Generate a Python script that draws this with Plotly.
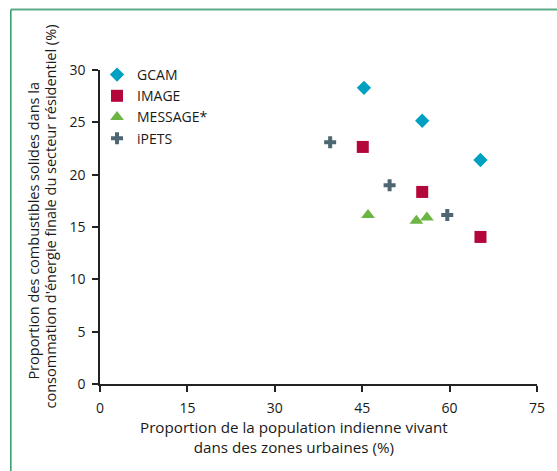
import plotly.graph_objects as go

# Data
series_names = ["GCAM", "IMAGE", "MESSAGE*", "iPETS"]
gcam_x = [45.3, 55.3, 65.3]
gcam_y = [28.3, 25.15, 21.4]
image_x = [45.1, 55.3, 65.3]
image_y = [22.65, 18.35, 14.05]
message_x = [46.0, 54.3, 56.1]
message_y = [16.15, 15.6, 15.9]
ipets_x = [39.5, 49.7, 59.6]
ipets_y = [23.1, 19.0, 16.15]

x_ticks = [0, 15, 30, 45, 60, 75]
y_ticks = [0, 5, 10, 15, 20, 25, 30]

FONT = "Open Sans"
W, H = 557, 471
L, R, T, B = 100, 16, 70, 87
PW, PH = W - L - R, H - T - B

def px_x(p):
    return (p - L) / PW

def px_y(p):
    return (H - B - p) / PH

fig = go.Figure()
fig.add_trace(go.Scatter(x=gcam_x, y=gcam_y, mode="markers", name=series_names[0],
                         marker=dict(symbol="diamond", size=11, color="#00a0c3")))
fig.add_trace(go.Scatter(x=image_x, y=image_y, mode="markers", name=series_names[1],
                         marker=dict(symbol="square", size=12, color="#b3063a")))
fig.add_trace(go.Scatter(x=message_x, y=message_y, mode="markers", name=series_names[2],
                         marker=dict(symbol="triangle-up", size=12, color="#6cb543")))
fig.add_trace(go.Scatter(x=ipets_x, y=ipets_y, mode="markers", name=series_names[3],
                         marker=dict(symbol="cross", size=10, color="#4d6672")))

axis_common = dict(showline=True, linecolor="#222222", linewidth=1.5, ticks="outside",
                   ticklen=6, tickwidth=1.5, tickcolor="#222222", showgrid=False,
                   zeroline=False, tickfont=dict(family=FONT, size=14, color="#1a1a1a"))

fig.update_xaxes(range=[0, 75], tickvals=x_ticks, ticktext=[str(v) for v in x_ticks],
                 ticklabelstandoff=4, **axis_common)
fig.update_yaxes(range=[0, 30], tickvals=y_ticks, ticktext=[str(v) for v in y_ticks],
                 ticklabelstandoff=4, **axis_common)

annotations = [
    dict(text="Proportion de la population indienne vivant<br>dans des zones urbaines (%)",
         xref="paper", yref="paper", x=px_x(296), y=px_y(437.5), xanchor="center", yanchor="middle",
         showarrow=False, font=dict(family=FONT, size=15.2, color="#1a1a1a")),
    dict(text="Proportion des combustibles solides dans la",
         xref="paper", yref="paper", x=px_x(32), y=px_y(231), xanchor="center", yanchor="middle",
         textangle=-90, showarrow=False, font=dict(family=FONT, size=14.5, color="#1a1a1a")),
    dict(text="consommation d'énergie finale du secteur résidentiel (%)",
         xref="paper", yref="paper", x=px_x(50), y=px_y(216), xanchor="center", yanchor="middle",
         textangle=-90, showarrow=False, font=dict(family=FONT, size=14.5, color="#1a1a1a")),
]

shapes = [
    dict(type="line", xref="paper", yref="paper", x0=px_x(10), x1=px_x(570),
         y0=px_y(9.5), y1=px_y(9.5), line=dict(color="#5aab86", width=2)),
    dict(type="line", xref="paper", yref="paper", x0=px_x(10), x1=px_x(10),
         y0=px_y(9.5), y1=px_y(480), line=dict(color="#2e9a66", width=1.5)),
]

fig.update_layout(
    width=W, height=H,
    margin=dict(l=L, r=R, t=T, b=B, pad=0),
    paper_bgcolor="white", plot_bgcolor="white",
    showlegend=True,
    legend=dict(x=px_x(97), y=px_y(59), xanchor="left", yanchor="top",
                font=dict(family=FONT, size=14, color="#1a1a1a"),
                bgcolor="rgba(0,0,0,0)", itemwidth=30, tracegroupgap=0),
    annotations=annotations,
    shapes=shapes,
)

fig.write_html("out.html", config={"displayModeBar": False},
               post_script="document.body.style.margin='0px';document.body.style.overflow='hidden';")
